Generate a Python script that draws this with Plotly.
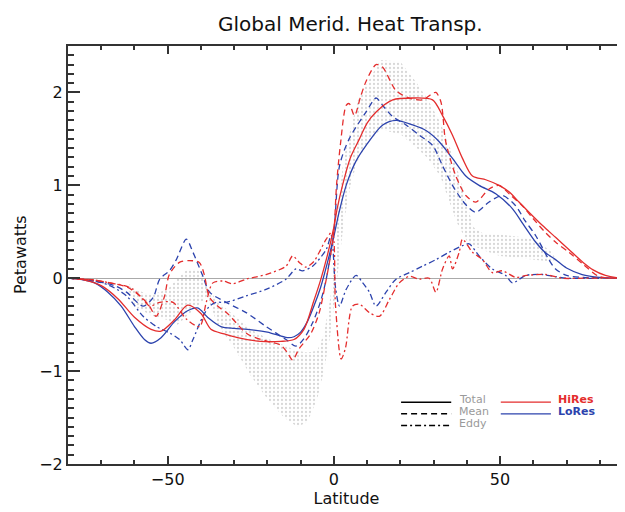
import plotly.graph_objects as go

# ---------------- data ----------------
# Observational range (gray dotted band)
band_lat = [-62, -60, -55, -50, -47, -44, -41, -38, -35, -30, -25, -20, -15, -11, -8, -5, -3, -1, 0, 1, 2, 3, 5, 7,
            10, 14, 20, 25, 28, 32, 35, 37, 40, 42, 45, 50, 55, 60, 65, 67]
band_upper = [-0.05, -0.12, -0.18, -0.12, 0.0, 0.1, 0.1, -0.1, -0.25, -0.4, -0.55, -0.65, -0.72, -0.78, -0.8, -0.78,
              -0.6, -0.2, 0.2, 0.6, 1.0, 1.3, 1.6, 1.9, 2.1, 2.35, 2.33, 2.1, 1.94, 1.68, 1.4, 1.2, 0.8, 0.55, 0.48,
              0.47, 0.45, 0.42, 0.3, 0.2]
band_lower = [-0.1, -0.3, -0.4, -0.45, -0.5, -0.4, -0.3, -0.2, -0.5, -0.75, -1.05, -1.3, -1.5, -1.6, -1.55, -1.3,
              -1.0, -0.6, -0.3, 0.0, 0.3, 0.6, 1.0, 1.25, 1.45, 1.6, 1.55, 1.4, 1.3, 1.1, 0.8, 0.6, 0.4, 0.35, 0.3,
              0.24, 0.22, 0.2, 0.18, 0.2]

# HiRes total (red solid)
hi_total_lat = [-80, -75, -70, -65, -60, -55, -52, -48, -44, -40, -37, -33, -29, -22, -16, -12, -9, -6, -4, -2, 0, 1,
                2.6, 5, 7.7, 10, 12.7, 17.7, 23.7, 29.7, 32.7, 35.7, 38.7, 41.7, 45.7, 49.7, 52.7, 55.7, 59, 62.7,
                66.7, 70.7, 75, 78, 81.7, 85, 88]
hi_total = [0, -0.02, -0.08, -0.22, -0.42, -0.55, -0.57, -0.45, -0.29, -0.38, -0.55, -0.6, -0.64, -0.68, -0.68,
            -0.66, -0.55, -0.24, -0.02, 0.24, 0.55, 0.75, 1.0, 1.3, 1.5, 1.67, 1.79, 1.92, 1.94, 1.92, 1.75, 1.54,
            1.29, 1.1, 1.06, 1.0, 0.93, 0.82, 0.7, 0.57, 0.44, 0.31, 0.17, 0.09, 0.03, 0.005, 0]

# LoRes total (blue solid)
lo_total_lat = [-80, -75, -72, -68, -64, -60, -57, -55, -52, -48, -44, -41, -38, -34, -30, -26, -20, -14, -12, -10,
                -8, -6, -4, -2, 0, 1.5, 3.7, 6.5, 9.7, 14.7, 18.7, 23.7, 27.7, 31.7, 35.7, 39.7, 43.7, 48.7, 53.7,
                57, 60.7, 63.5, 66.7, 70, 74.7, 80, 88]
lo_total = [0, -0.02, -0.05, -0.15, -0.3, -0.52, -0.66, -0.7, -0.64, -0.47, -0.35, -0.32, -0.42, -0.52, -0.54,
            -0.55, -0.58, -0.64, -0.63, -0.58, -0.47, -0.3, -0.1, 0.16, 0.45, 0.7, 1.0, 1.25, 1.43, 1.65, 1.70, 1.65,
            1.59, 1.47, 1.29, 1.1, 1.0, 0.91, 0.75, 0.58, 0.39, 0.28, 0.2, 0.11, 0.04, 0.01, 0]

# HiRes mean (red dashed)
hi_mean_lat = [-80, -72, -66, -62, -58, -55.5, -53.5, -51, -49.5, -46.5, -43.5, -40.5, -39, -37.5, -35, -32, -26, -20,
               -16, -14, -12.4, -10.5, -7, -4.4, -2.5, -1.2, 0, 0.8, 2, 3.7, 4.6, 6.2, 8, 9.7, 12.7, 14.7, 18.7,
               22.7, 26.7, 29.7, 30.7, 32.2, 33.5, 34.5, 36.7, 39.7, 42.7, 46.7, 49.7, 53, 56.7, 60, 63.7, 67, 70.7,
               75, 79.7, 85]
hi_mean = [0, -0.02, -0.06, -0.1, -0.2, -0.3, -0.41, -0.2, 0.04, 0.17, 0.19, 0.17, 0.04, -0.2, -0.3, -0.38, -0.6,
           -0.68, -0.72, -0.8, -0.88, -0.76, -0.6, -0.37, -0.05, 0.2, 0.5, 1.0, 1.45, 1.86, 1.88, 1.75, 1.95, 2.12,
           2.3, 2.27, 2.02, 1.94, 1.92, 1.99, 2.0, 1.9, 1.5, 1.35, 1.1, 0.89, 0.82, 0.96, 1.0, 0.9, 0.78, 0.64,
           0.49, 0.38, 0.28, 0.15, 0.02, 0]

# LoRes mean (blue dashed)
lo_mean_lat = [-80, -72, -66, -62.4, -57.4, -54.4, -52.4, -49.5, -47.4, -44.4, -42.4, -39.4, -37.4, -32.4, -26.4,
               -20.4, -14.4, -11.4, -9, -6.4, -4, -2.3, 0, 1.7, 4.6, 9.7, 12.7, 14.7, 17.7, 21.7, 25.7, 29.7, 32.7,
               35.7, 38, 40, 42.7, 46.7, 50.7, 54.7, 57.5, 60.7, 64.7, 66.7, 70, 75, 85]
lo_mean = [0, -0.03, -0.08, -0.15, -0.3, -0.21, -0.01, 0.08, 0.2, 0.42, 0.28, 0.02, -0.15, -0.26, -0.37, -0.52,
           -0.66, -0.73, -0.65, -0.48, -0.25, -0.01, 0.5, 1.21, 1.5, 1.79, 1.94, 1.86, 1.74, 1.65, 1.54, 1.43, 1.21,
           1.0, 0.87, 0.78, 0.71, 0.82, 0.89, 0.78, 0.62, 0.46, 0.2, 0.1, 0.03, 0.01, 0]

# HiRes eddy (red dash-dot)
hi_eddy_lat = [-80, -72, -67.4, -63, -60.4, -57.4, -55.4, -52.4, -48.4, -44.4, -40.4, -38.4, -36.4, -33.4, -30.4,
               -26.4, -20.4, -14.4, -12.4, -10.4, -8.4, -6, -4.4, -2.3, -0.5, 0.5, 2.2, 3.5, 5.6, 7.7, 10.7, 13.7,
               16.7, 19.7, 22.7, 25.7, 28.7, 30.7, 32.7, 34.7, 35.7, 37.7, 38.7, 41.7, 44.7, 47.7, 50.7, 54.7, 58,
               63.7, 68.7, 75, 85]
hi_eddy = [0, -0.02, -0.05, -0.08, -0.12, -0.23, -0.3, -0.26, -0.26, -0.44, -0.52, -0.26, -0.05, -0.03, -0.06,
           -0.01, 0.04, 0.13, 0.24, 0.17, 0.12, 0.18, 0.28, 0.42, 0.5, -0.3, -0.87, -0.75, -0.3, -0.28, -0.37, -0.41,
           -0.23, -0.05, 0.02, -0.01, 0.0, -0.15, 0.1, 0.24, 0.1, 0.28, 0.42, 0.28, 0.2, 0.06, 0.08, 0.01, 0.03,
           0.04, 0.0, 0.0, 0]

# LoRes eddy (blue dash-dot)
lo_eddy_lat = [-80, -72, -67.4, -62.4, -57.4, -53.4, -49.4, -46.4, -43.9, -42.4, -39.4, -37.4, -35.4, -32.4, -26.4,
               -20.4, -14.4, -11.4, -9.4, -6.4, -2.3, -0.8, 0.5, 1.7, 3.7, 6.7, 8.7, 10.7, 12.7, 15.7, 18.7, 22.7,
               26.7, 30.7, 34.7, 38.7, 40.7, 43.7, 47.7, 51.7, 53.7, 57.7, 62.7, 66, 70, 80]
lo_eddy = [0, -0.03, -0.08, -0.19, -0.41, -0.52, -0.59, -0.66, -0.77, -0.66, -0.41, -0.3, -0.26, -0.26, -0.19,
           -0.12, -0.01, 0.1, 0.08, 0.13, 0.31, 0.46, -0.1, -0.3, -0.12, 0.03, -0.05, -0.15, -0.3, -0.15, -0.01,
           0.06, 0.13, 0.2, 0.28, 0.35, 0.37, 0.24, 0.1, 0.03, -0.05, 0.03, 0.04, 0.02, 0.0, 0]

x_ticks = [-50, 0, 50]
y_ticks = [-2, -1, 0, 1, 2]

RED = "#e42d2d"
BLUE = "#2c43ad"
DASH = "6px,4px"
DASHDOT = "6px,3px,2px,3px"
FONT = "DejaVu Sans"

fig = go.Figure()

# gray dotted band
fig.add_trace(go.Scatter(
    x=band_lat + band_lat[::-1], y=band_upper + band_lower[::-1],
    mode="lines", line=dict(width=0, color="rgba(0,0,0,0)"),
    fill="toself", fillcolor="rgba(0,0,0,0)",
    fillpattern=dict(shape=".", fgcolor="#b0b0b0", bgcolor="rgba(0,0,0,0)", size=4, solidity=0.25),
    hoverinfo="skip", showlegend=False))

series = [
    (lo_total_lat, lo_total, BLUE, "solid"),
    (lo_mean_lat, lo_mean, BLUE, DASH),
    (lo_eddy_lat, lo_eddy, BLUE, DASHDOT),
    (hi_total_lat, hi_total, RED, "solid"),
    (hi_mean_lat, hi_mean, RED, DASH),
    (hi_eddy_lat, hi_eddy, RED, DASHDOT),
]
for xs, ys, col, dash in series:
    fig.add_trace(go.Scatter(x=xs, y=ys, mode="lines",
                             line=dict(color=col, width=1.3, dash=dash, shape="spline", smoothing=0.8),
                             showlegend=False, hoverinfo="skip"))

# ---- custom legend (paper coordinates) ----
leg_rows = [("Total", "solid", 0.148), ("Mean", DASH, 0.120), ("Eddy", DASHDOT, 0.092)]
for name, dash, yy in leg_rows:
    fig.add_shape(type="line", xref="paper", yref="paper", x0=0.598, x1=0.688, y0=yy, y1=yy,
                  line=dict(color="black", width=1.5, dash=dash))
    fig.add_annotation(xref="paper", yref="paper", x=0.698, y=yy + 0.006, text=name, showarrow=False,
                       xanchor="left", yanchor="middle", font=dict(family=FONT, size=11, color="#9a9a9a"))
for name, col, yy in [("HiRes", RED, 0.148), ("LoRes", BLUE, 0.120)]:
    fig.add_shape(type="line", xref="paper", yref="paper", x0=0.777, x1=0.867, y0=yy, y1=yy,
                  line=dict(color=col, width=1.2))
    fig.add_annotation(xref="paper", yref="paper", x=0.877, y=yy + 0.006, text="<b>%s</b>" % name,
                       showarrow=False, xanchor="left", yanchor="middle",
                       font=dict(family=FONT, size=11, color=col))

# title
fig.add_annotation(xref="paper", yref="paper", x=0.508, y=1.053, text="Global Merid. Heat Transp.",
                   showarrow=False, xanchor="center", yanchor="middle",
                   font=dict(family=FONT, size=20, color="#111"))
# y-axis title
fig.add_annotation(xref="paper", yref="paper", x=-0.086, y=0.5, text="Petawatts", textangle=-90,
                   showarrow=False, xanchor="center", yanchor="middle",
                   font=dict(family=FONT, size=16, color="#111"))

# the page body adds an 8px margin, so the figure is sized to fit the window
fig.update_layout(
    width=617, height=504,
    margin=dict(l=60, r=0, t=38, b=48, autoexpand=False),
    paper_bgcolor="white", plot_bgcolor="white",
    font=dict(family=FONT, size=16, color="#111"),
    showlegend=False,
)
fig.update_xaxes(
    automargin=False,
    range=[-80, 87.6], tickvals=x_ticks, ticktext=["\u221250", "0", "50"],
    ticks="inside", ticklen=8, tickwidth=1.5, tickcolor="#333",
    minor=dict(dtick=10, tick0=0, ticks="inside", ticklen=4, tickwidth=1.5, tickcolor="#333"),
    showline=True, linecolor="#333", linewidth=2, mirror="ticks",
    showgrid=False, zeroline=False,
    title=dict(text="Latitude", font=dict(family=FONT, size=16), standoff=0),
    tickfont=dict(family=FONT, size=16),
)
fig.update_yaxes(
    automargin=False,
    range=[-2, 2.5], tickvals=y_ticks, ticktext=["\u22122", "\u22121", "0", "1", "2"],
    ticks="inside", ticklen=12, tickwidth=1.5, tickcolor="#333",
    minor=dict(dtick=0.1, tick0=0, ticks="inside", ticklen=6, tickwidth=1.5, tickcolor="#333"),
    showline=True, linecolor="#333", linewidth=2, mirror=False,
    showgrid=False, zeroline=True, zerolinecolor="#aaaaaa", zerolinewidth=1,
    tickfont=dict(family=FONT, size=16),
)

fig.write_html("out.html")
